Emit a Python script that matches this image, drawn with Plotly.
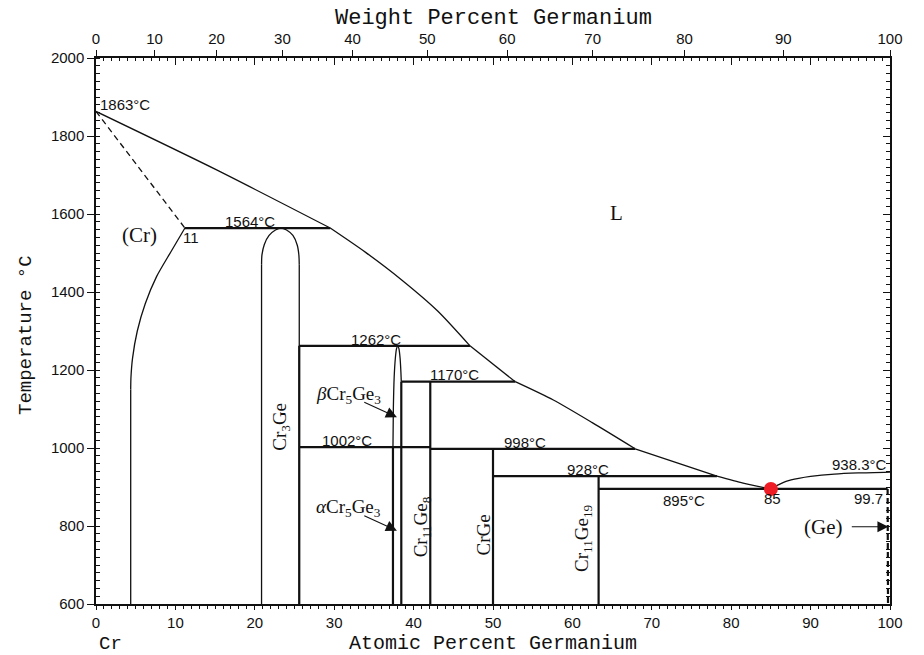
import plotly.graph_objects as go

# ---- Cr-Ge phase boundaries (atomic % Ge, temperature in degC) ----
# Liquidus, split at each invariant where its slope changes
liquidus_segments_x = [
    [0.0, 15.0, 29.5],
    [29.5, 34.0, 38.5, 43.0, 47.1],
    [47.1, 52.8],
    [52.8, 57.6, 62.5, 67.9],
    [67.9, 78.2],
    [78.2, 81.5, 85.0],
]
liquidus_segments_t = [
    [1863, 1715, 1564],
    [1564, 1501, 1431, 1352, 1262],
    [1262, 1170],
    [1170, 1123, 1065, 998],
    [998, 928],
    [928, 910, 895],
]

# Liquidus on the Ge-rich side
ge_liquidus_x = [85.0, 86.0, 87.0, 88.5, 90.0, 93.0, 96.0, 100.0]
ge_liquidus_t = [895, 906, 915, 922, 927, 933, 936, 938.3]

# (Cr) solidus (dashed) and solvus
cr_solidus_x = [0.0, 11.2]
cr_solidus_t = [1863, 1564]
cr_solvus_curve_x = [4.37, 4.4, 4.6, 5.2, 6.2, 7.64, 9.4, 11.2]
cr_solvus_curve_t = [1150, 1180, 1230, 1300, 1370, 1440, 1502, 1564]
cr_solvus_base_x = [4.37, 4.37]
cr_solvus_base_t = [600, 1150]

# Cr3Ge homogeneity range: straight sides and arched top
cr3ge_left_x, cr3ge_right_x = 20.85, 25.6
cr3ge_side_top = 1470
cr3ge_dome_x = [20.85, 20.9, 21.2, 21.8, 22.6, 23.3, 24.0, 24.8, 25.35, 25.55, 25.6]
cr3ge_dome_t = [1470, 1495, 1522, 1545, 1559, 1564, 1559, 1545, 1520, 1495, 1470]

# beta-Cr5Ge3 narrow field above the 1002 degC line
cr5ge3_x = [37.4, 37.45, 37.55, 37.7, 37.85, 38.0, 38.15, 38.3, 38.4, 38.45]
cr5ge3_t = [1002, 1100, 1180, 1230, 1255, 1262, 1255, 1230, 1195, 1170]

# Invariant reactions (horizontal lines)
invariant_t = [1564, 1262, 1170, 1002, 998, 928, 895]
invariant_left = [11.2, 25.6, 38.45, 25.6, 42.1, 50.0, 63.3]
invariant_right = [29.5, 47.1, 52.8, 42.1, 67.9, 78.2, 99.7]

# Line compounds / phase edges (vertical lines down to 600 degC)
compound_x = [25.6, 37.4, 38.45, 42.1, 50.0, 63.3]
compound_top = [1262, 1002, 1170, 1170, 998, 928]

# (Ge) solvus (dashed)
ge_solvus_x = [99.7, 99.75]
ge_solvus_t = [895, 600]

# Eutectic point
eutectic_x = [85.0]
eutectic_t = [895]

# Axis ticks
at_ticks = list(range(0, 101, 10))
wt_ticks = list(range(0, 101, 10))
temp_ticks = list(range(600, 2001, 200))

CR_MASS, GE_MASS = 51.996, 72.63


def wt_to_at(w):
    if w >= 100:
        return 100.0
    ge = w / GE_MASS
    cr = (100 - w) / CR_MASS
    return 100 * ge / (ge + cr)


wt_positions = [wt_to_at(w) for w in wt_ticks]

BLACK = "#111111"
THIN = 1.3
THICK = 2.2

fig = go.Figure()


def add_line(x, y, width=THIN, dash="solid", smooth=False):
    line = dict(color=BLACK, width=width, dash=dash)
    if smooth:
        line.update(shape="spline", smoothing=0.7)
    fig.add_trace(go.Scatter(x=x, y=y, mode="lines", hoverinfo="skip",
                             line=line, showlegend=False))


for sx, st in zip(liquidus_segments_x, liquidus_segments_t):
    add_line(sx, st, smooth=len(sx) > 2)
add_line(ge_liquidus_x, ge_liquidus_t, smooth=True)
add_line(cr_solidus_x, cr_solidus_t, dash="6px,4px")
add_line(cr_solvus_base_x, cr_solvus_base_t)
add_line(cr_solvus_curve_x, cr_solvus_curve_t, smooth=True)
add_line([cr3ge_left_x, cr3ge_left_x, None, cr3ge_right_x, cr3ge_right_x],
         [600, cr3ge_side_top, None, 600, cr3ge_side_top])
add_line(cr3ge_dome_x, cr3ge_dome_t, smooth=True)
add_line(cr5ge3_x, cr5ge3_t, smooth=True)

hx, hy = [], []
for t, a, b in zip(invariant_t, invariant_left, invariant_right):
    hx += [a, b, None]
    hy += [t, t, None]
add_line(hx, hy, width=THICK)

vx, vy = [], []
for x, top in zip(compound_x, compound_top):
    vx += [x, x, None]
    vy += [600, top, None]
add_line(vx, vy, width=THICK)

add_line(ge_solvus_x, ge_solvus_t, width=THICK, dash="6px,3px")

fig.add_trace(go.Scatter(x=eutectic_x, y=eutectic_t, mode="markers", hoverinfo="skip",
                         marker=dict(symbol="circle", size=14, color="#ee1c24",
                                     line=dict(width=0)),
                         showlegend=False))

# Placeholder traces so the extra axes get drawn
fig.add_trace(go.Scatter(x=[None], y=[None], xaxis="x2", yaxis="y", showlegend=False))
fig.add_trace(go.Scatter(x=[None], y=[None], xaxis="x3", yaxis="y", showlegend=False))
fig.add_trace(go.Scatter(x=[None], y=[None], xaxis="x", yaxis="y2", showlegend=False))

tickfont = dict(family="Liberation Sans", size=15, color=BLACK)
mono = "Liberation Mono"
serif = "Liberation Serif"
sans = "Liberation Sans"

fig.update_layout(
    width=924, height=655,
    margin=dict(l=96, r=34, t=58, b=51),
    paper_bgcolor="white", plot_bgcolor="white",
    showlegend=False,
    xaxis=dict(range=[0, 100], tickvals=at_ticks, ticks="outside", ticklen=4,
               tickwidth=1.2, tickcolor=BLACK, showline=True, linecolor=BLACK,
               linewidth=1.5, showgrid=False, zeroline=False, tickfont=tickfont,
               minor=dict(dtick=1, ticks="outside", ticklen=3, tickcolor=BLACK,
                          tickwidth=1, showgrid=False)),
    xaxis2=dict(range=[0, 100], overlaying="x", side="top", anchor="y",
                tickvals=wt_positions, ticktext=[str(w) for w in wt_ticks],
                ticks="outside", ticklen=6, tickwidth=1.2, tickcolor=BLACK,
                showline=True, linecolor=BLACK, linewidth=1.5, showgrid=False,
                zeroline=False, tickfont=tickfont),
    xaxis3=dict(range=[0, 100], overlaying="x", side="top", anchor="y",
                tickvals=at_ticks, ticks="inside", ticklen=7, tickwidth=1.2,
                tickcolor=BLACK, showticklabels=False, showline=False,
                showgrid=False, zeroline=False,
                minor=dict(dtick=1, ticks="inside", ticklen=3, tickcolor=BLACK,
                           tickwidth=1, showgrid=False)),
    yaxis=dict(range=[600, 2000], tickvals=temp_ticks, ticks="outside", ticklen=7,
               tickwidth=1.2, tickcolor=BLACK, showline=True, linecolor=BLACK,
               linewidth=1.5, showgrid=False, zeroline=False, tickfont=tickfont,
               minor=dict(dtick=20, ticks="inside", ticklen=4, tickcolor=BLACK,
                          tickwidth=1, showgrid=False)),
    yaxis2=dict(range=[600, 2000], overlaying="y", side="right", anchor="x",
                tickvals=temp_ticks, ticks="inside", ticklen=7, tickwidth=1.2,
                tickcolor=BLACK, showticklabels=False, showline=True,
                linecolor=BLACK, linewidth=1.5, showgrid=False, zeroline=False,
                minor=dict(dtick=20, ticks="inside", ticklen=4, tickcolor=BLACK,
                           tickwidth=1, showgrid=False)),
)

ann = []


def label(x, y, text, size=15, family=sans, angle=0, xanchor="center"):
    ann.append(dict(x=x, y=y, xref="x", yref="y", text=text, showarrow=False,
                    font=dict(family=family, size=size, color=BLACK),
                    textangle=angle, xanchor=xanchor, yanchor="middle"))


# temperatures and compositions of invariants
label(0.3, 1882, "1863°C", xanchor="left")
label(19.4, 1581, "1564°C")
label(12.0, 1541, "11")
label(35.3, 1279, "1262°C")
label(45.2, 1189, "1170°C")
label(31.6, 1018, "1002°C")
label(54.0, 1014, "998°C")
label(62.0, 946, "928°C")
label(74.1, 866, "895°C")
label(85.2, 870, "85")
label(97.3, 870, "99.7")
label(96.2, 958, "938.3°C")

# phase fields
label(5.5, 1546, "(Cr)", size=21, family=serif)
label(65.6, 1603, "L", size=21, family=serif)
label(91.6, 798, "(Ge)", size=21, family=serif)
label(31.8, 1136, "<i>β</i>Cr<sub>5</sub>Ge<sub>3</sub>", size=19, family=serif)
label(31.8, 845, "<i>α</i>Cr<sub>5</sub>Ge<sub>3</sub>", size=19, family=serif)
label(23.2, 1055, "Cr<sub>3</sub>Ge", size=19, family=serif, angle=-90)
label(41.0, 798, "Cr<sub>11</sub>Ge<sub>8</sub>", size=19, family=serif, angle=-90)
label(48.8, 777, "CrGe", size=19, family=serif, angle=-90)
label(61.4, 768, "Cr<sub>11</sub>Ge<sub>19</sub>", size=19, family=serif, angle=-90)

# pointer arrows
for (x0, y0, x1, y1) in [(33.6, 1119, 37.9, 1079), (33.6, 828, 37.9, 788), (95.0, 798, 99.8, 798)]:
    ann.append(dict(x=x1, y=y1, ax=x0, ay=y0, xref="x", yref="y", axref="x", ayref="y",
                    text="", showarrow=True, arrowhead=2, arrowsize=2, arrowwidth=1.1,
                    arrowcolor=BLACK, standoff=0))

# axis titles and element names
ann.append(dict(x=0.5, y=1.0, xref="paper", yref="paper", yshift=40, text="Weight Percent Germanium",
                showarrow=False, font=dict(family=mono, size=22, color=BLACK),
                xanchor="center", yanchor="middle"))
ann.append(dict(x=0.5, y=0.0, xref="paper", yref="paper", yshift=-39, text="Atomic Percent Germanium",
                showarrow=False, font=dict(family=mono, size=20, color=BLACK),
                xanchor="center", yanchor="middle"))
ann.append(dict(x=0.0, y=0.5, xref="paper", yref="paper", xshift=-70, yshift=-4, text="Temperature °C",
                showarrow=False, font=dict(family=mono, size=19, color=BLACK),
                textangle=-90, xanchor="center", yanchor="middle"))
ann.append(dict(x=1.8, y=0.0, xref="x", yref="paper", yshift=-40, text="Cr",
                showarrow=False, font=dict(family=mono, size=19, color=BLACK),
                xanchor="center", yanchor="middle"))
ann.append(dict(x=101.6, y=0.0, xref="x", yref="paper", yshift=-40, text="Ge",
                showarrow=False, font=dict(family=mono, size=19, color=BLACK),
                xanchor="center", yanchor="middle"))

fig.update_layout(annotations=ann)

fig.write_html("out.html")
